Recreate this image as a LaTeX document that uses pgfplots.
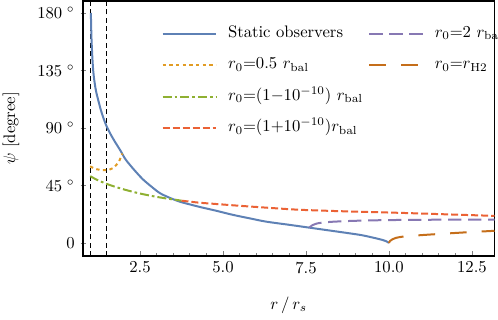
\documentclass[border=0pt]{standalone}
\usepackage{pgfplots}
\pgfplotsset{compat=1.18}
\definecolor{mblue}{HTML}{5E81B5}
\definecolor{morange}{HTML}{E19C24}
\definecolor{mgreen}{HTML}{8FB032}
\definecolor{mred}{HTML}{EB6235}
\definecolor{mpurple}{HTML}{8778B3}
\definecolor{mbrown}{HTML}{C56E1A}
\begin{document}
\begin{tikzpicture}
\begin{axis}[name=ax,
  scale only axis, width=246.9pt, height=153pt,
  xmin=0.783, xmax=13.18, ymin=-10.2, ymax=189.4,
  axis line style={line width=0.9pt},
  xtick={2.5,5,7.5,10,12.5},
  xticklabels={2.5,5.0,7.5,10.0,12.5},
  minor x tick num=4,
  ytick={0,45,90,135,180},
  yticklabels={0,{$45\;^{\circ}$},{$90\;^{\circ}$},{$135\;^{\circ}$},{$180\;^{\circ}$}},
  xtick pos=left, ytick pos=left,
  xtick align=inside, ytick align=center,
  major tick length=3pt, minor tick length=1.8pt,
  tick style={gray, line width=0.5pt},
  xlabel={$r\,/\,r_s$}, ylabel={$\psi$ [degree]},
  xlabel style={at={(axis description cs:0.5,-0.192)}, anchor=center},
  ylabel style={at={(axis description cs:-0.175,0.5)}, anchor=center},
  legend image code/.code={\draw[#1] (0pt,0pt) -- (32pt,0pt);},
  legend cell align=left,
  legend style={at={(axis cs:3.153,169.4)}, anchor=north west, draw=none, fill=none,
    inner sep=0pt, outer sep=0pt, row sep=10.4pt,
    nodes={inner sep=0pt, text height=6.5pt, text depth=2pt},
    /tikz/every odd column/.append style={column sep=6.6pt},
    /tikz/every even column/.append style={column sep=3.2pt}},
  legend columns=2,
]
% legend, row by row
\addlegendimage{mblue, line width=1.2pt}
\addlegendentry{Static observers}
\addlegendimage{mpurple, line width=1.2pt, dash pattern=on 8pt off 4pt}
\addlegendentry{$r_0{=}2\ r_{\mathrm{bal}}$}
\addlegendimage{morange, line width=1.2pt, dash pattern=on 2pt off 2pt}
\addlegendentry{$r_0{=}0.5\ r_{\mathrm{bal}}$}
\addlegendimage{mbrown, line width=1.2pt, dash pattern=on 10pt off 9pt}
\addlegendentry{$r_0{=}r_{\mathrm{H2}}$}
\addlegendimage{mgreen, line width=1.2pt, dash pattern=on 5.4pt off 1.8pt on 1.6pt off 1.8pt}
\addlegendentry{$r_0{=}(1{-}10^{-10})\ r_{\mathrm{bal}}$}
\addlegendimage{empty legend}
\addlegendentry{}
\addlegendimage{mred, line width=1.2pt, dash pattern=on 4.2pt off 1.8pt}
\addlegendentry{$r_0{=}(1{+}10^{-10})r_{\mathrm{bal}}$}
\addlegendimage{empty legend}
\addlegendentry{}

% vertical markers
\addplot[forget plot, black, line width=0.6pt, dash pattern=on 3pt off 2pt] coordinates {(1,-10.2) (1,189.4)};
\addplot[forget plot, black, line width=0.6pt, dash pattern=on 3pt off 2pt] coordinates {(1.5,-10.2) (1.5,189.4)};

% static observers
\addplot[forget plot, mblue, line width=1.2pt, smooth] coordinates {
(1.02,180) (1.025,174) (1.03,168) (1.04,159) (1.05,153) (1.065,145) (1.09,135)
(1.12,128) (1.16,121) (1.2,116) (1.25,111) (1.31,105) (1.37,100) (1.43,95.5)
(1.5,91) (1.6,85.8) (1.75,79) (1.9,72.8) (2.05,66) (2.2,61)
(2.4,55) (2.6,49.5) (2.85,44) (3.1,39) (3.4,35.3) (3.7,32.3) (4.0,30.2)
(4.3,28.2) (4.6,26.4) (4.8,25.2) (5.3,22) (5.8,19.3) (6.3,16.7) (7.0,14.2)
(7.6,12) (8.2,9.8) (8.8,7.6) (9.2,6) (9.6,3.7) (9.8,2.4) (9.93,1.2) (10.0,0)
};
% r0 = 0.5 r_bal
\addplot[forget plot, morange, line width=1.2pt, dash pattern=on 2pt off 2pt, smooth] coordinates {
(1.0,60) (1.1,58.6) (1.2,57.7) (1.3,57.2) (1.4,57.0) (1.5,57.1) (1.6,57.6)
(1.7,58.8) (1.8,61.5) (1.87,64) (1.93,67.5) (1.97,70)
};
% r0 = (1-1e-10) r_bal
\addplot[forget plot, mgreen, line width=1.2pt, dash pattern=on 5.4pt off 1.8pt on 1.6pt off 1.8pt, smooth] coordinates {
(1.0,52.3) (1.2,49.5) (1.5,46.2) (1.8,43.6) (2.1,41.3) (2.4,39.3) (2.7,37.6)
(3.0,36.1) (3.3,34.8) (3.6,33.7) (3.75,33.1)
};
% r0 = (1+1e-10) r_bal
\addplot[forget plot, mred, line width=1.2pt, dash pattern=on 4.2pt off 1.8pt, smooth] coordinates {
(3.75,33.1) (4.3,31.5) (4.9,30.3) (5.5,29.1) (6.5,27.3) (7.3,26) (8.5,24.9)
(10.3,23.6) (11.5,22.6) (13.18,21.2)
};
% r0 = 2 r_bal
\addplot[forget plot, mpurple, line width=1.2pt, dash pattern=on 8pt off 4pt, smooth] coordinates {
(7.6,12.1) (7.7,14) (7.8,15) (7.95,15.8) (8.3,16.6) (8.8,17.2) (9.5,17.7)
(10.3,18.0) (11.5,18.2) (13.18,18.3)
};
% r0 = r_H2
\addplot[forget plot, mbrown, line width=1.2pt, dash pattern=on 10pt off 9pt, smooth] coordinates {
(10.0,0) (10.03,1.5) (10.1,2.8) (10.2,3.9) (10.4,4.9) (10.8,5.8) (11.3,6.7)
(12.3,8.3) (13.18,9.5)
};
\end{axis}
\pgfresetboundingbox
\path[use as bounding box] ([shift={(-49.8pt,-38.4pt)}]ax.south west) rectangle ([shift={(2.1pt,0.6pt)}]ax.north east);
\end{tikzpicture}
\end{document}
